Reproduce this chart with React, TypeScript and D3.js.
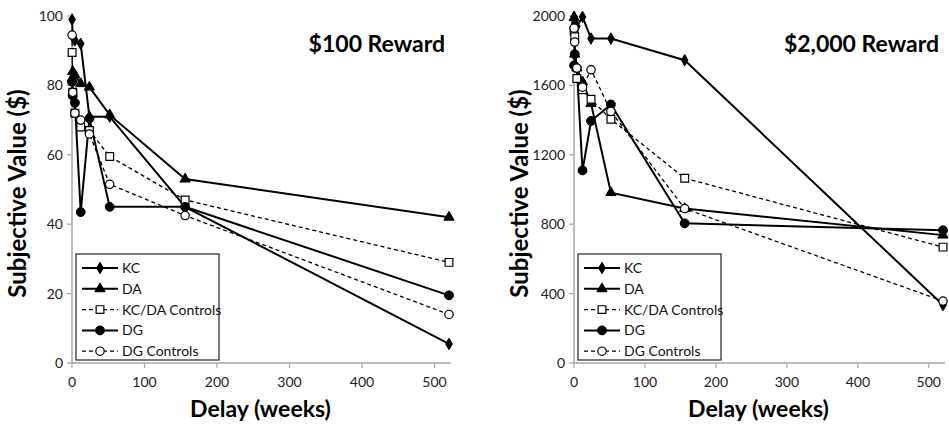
import * as d3 from "d3";

const delays = [0.14, 1, 4, 12, 24, 52, 156, 520];
const seriesNames = ["KC", "DA", "KC/DA Controls", "DG", "DG Controls"];

// $100 reward
const kc100 = [99, 94, 93, 92, 71, 71, 45, 5.5];
const da100 = [82, 84, 83, 80.5, 79.5, 71.5, 53, 42];
const kcdaCtl100 = [89.5, 78, 72, 68, 67, 59.5, 47, 29];
const dg100 = [81, 77, 75, 43.5, 70.5, 45, 45, 19.5];
const dgCtl100 = [94.5, 78, 72, 70, 66, 51.5, 42.5, 14];

// $2,000 reward
const kc2000 = [1995, 1960, 1940, 1995, 1870, 1870, 1745, 334];
const da2000 = [1990, 1780, 1700, 1620, 1495, 982, 890, 737];
const kcdaCtl2000 = [1915, 1880, 1640, 1575, 1520, 1405, 1065, 668];
const dg2000 = [1715, 1780, 1700, 1110, 1395, 1490, 805, 765];
const dgCtl2000 = [1930, 1850, 1700, 1590, 1690, 1450, 890, 357];

const xTicks = [0, 100, 200, 300, 400, 500];
const yTicks100 = [0, 20, 40, 60, 80, 100];
const yTicks2000 = [0, 400, 800, 1200, 1600, 2000];

const FONT = "Lato, 'Open Sans', sans-serif";
const AXIS = "#a6a6a6";

type Style = { symbol: d3.SymbolType; filled: boolean; dashed: boolean; size: number };
const styles: Style[] = [
  { symbol: d3.symbolDiamond, filled: true, dashed: false, size: 38 },
  { symbol: d3.symbolTriangle, filled: true, dashed: false, size: 45 },
  { symbol: d3.symbolSquare, filled: false, dashed: true, size: 60 },
  { symbol: d3.symbolCircle, filled: true, dashed: false, size: 62 },
  { symbol: d3.symbolCircle, filled: false, dashed: true, size: 55 },
];

function Marker({ s, x, y }: { s: Style; x: number; y: number }) {
  const d = d3.symbol().type(s.symbol).size(s.size)()!;
  return (
    <path
      d={d}
      transform={`translate(${x},${y})`}
      fill={s.filled ? "#000" : "#fff"}
      stroke="#000"
      strokeWidth={s.filled ? 1 : 1.2}
    />
  );
}

function Panel({ left, right, yMax, yTicks, series, title }: {
  left: number; right: number; yMax: number; yTicks: number[]; series: number[][]; title: string;
}) {
  const top = 16, bottom = 363;
  const x = d3.scaleLinear([0, 520], [left, right]);
  const y = d3.scaleLinear([0, yMax], [bottom, top]);
  const line = d3.line<number>().x((d, i) => x(delays[i])).y((d) => y(d));
  const fmt = d3.format("d");
  const lx = left + 4, ly = 254, lw = 143, lh = 106;

  return (
    <g>
      {/* axes */}
      <line x1={left} x2={left} y1={top} y2={bottom} stroke={AXIS} strokeWidth={1.5} />
      <line x1={left} x2={right + 2} y1={bottom} y2={bottom} stroke={AXIS} strokeWidth={1.5} />
      {yTicks.map((t) => (
        <g key={t}>
          <line x1={left - 5} x2={left} y1={y(t)} y2={y(t)} stroke={AXIS} strokeWidth={1.2} />
          <text x={left - 9} y={y(t)} dy="0.35em" textAnchor="end" fontSize={14} fill="#222" fontFamily={FONT}>
            {fmt(t)}
          </text>
        </g>
      ))}
      {xTicks.map((t) => (
        <g key={t}>
          <line x1={x(t)} x2={x(t)} y1={bottom} y2={bottom + 5} stroke={AXIS} strokeWidth={1.2} />
          <text x={x(t)} y={bottom + 24} textAnchor="middle" fontSize={14} fill="#222" fontFamily={FONT}>
            {t}
          </text>
        </g>
      ))}

      {/* series */}
      {series.map((vals, k) => (
        <path
          key={k}
          d={line(vals)!}
          fill="none"
          stroke="#000"
          strokeWidth={styles[k].dashed ? 1.3 : 2}
          strokeDasharray={styles[k].dashed ? "4,3" : undefined}
        />
      ))}
      {series.map((vals, k) =>
        vals.map((v, i) => <Marker key={`${k}-${i}`} s={styles[k]} x={x(delays[i])} y={y(v)} />)
      )}

      <text x={right - 4} y={52} textAnchor="end" fontSize={23} fontWeight="bold" fontFamily={FONT} fill="#000">
        {title}
      </text>

      {/* legend */}
      <rect x={lx} y={ly} width={lw} height={lh} fill="#fff" stroke="#333" strokeWidth={1.3} />
      {seriesNames.map((name, k) => {
        const cy = ly + 14 + k * 20.8;
        return (
          <g key={name}>
            <line
              x1={lx + 6} x2={lx + 42} y1={cy} y2={cy} stroke="#000"
              strokeWidth={styles[k].dashed ? 1.3 : 2}
              strokeDasharray={styles[k].dashed ? "4,3" : undefined}
            />
            <Marker s={styles[k]} x={lx + 24} y={cy} />
            <text x={lx + 46} y={cy} dy="0.35em" fontSize={14} fontFamily={FONT} fill="#111">
              {name}
            </text>
          </g>
        );
      })}

      {/* axis titles */}
      <text
        transform={`translate(${left - 46},${(top + bottom) / 2 + 4}) rotate(-90)`}
        textAnchor="middle" fontSize={24} fontWeight="bold" fontFamily={FONT} fill="#000"
      >
        Subjective Value ($)
      </text>
      <text x={(left + right) / 2} y={417} textAnchor="middle" fontSize={23} fontWeight="bold" fontFamily={FONT} fill="#000">
        Delay (weeks)
      </text>
    </g>
  );
}

export default function App() {
  return (
    <svg width={949} height={426} style={{ position: "absolute", left: 0, top: 0, background: "#fff" }}>
      <Panel
        left={72} right={449} yMax={100} yTicks={yTicks100} title="$100 Reward"
        series={[kc100, da100, kcdaCtl100, dg100, dgCtl100]}
      />
      <Panel
        left={574} right={943} yMax={2000} yTicks={yTicks2000} title="$2,000 Reward"
        series={[kc2000, da2000, kcdaCtl2000, dg2000, dgCtl2000]}
      />
    </svg>
  );
}
